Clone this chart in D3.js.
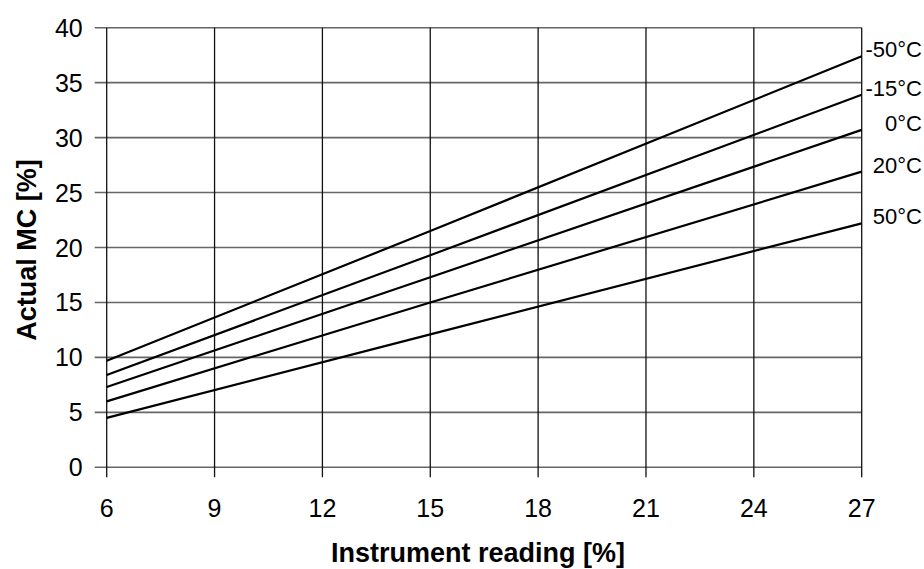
<!DOCTYPE html>
<html>
<head>
<meta charset="utf-8">
<script src="https://cdn.jsdelivr.net/npm/d3@7"></script>
<style>
  body { margin: 0; background: #fff; }
  svg { display: block; font-family: "Liberation Sans", Arial, sans-serif; }
  .grid-h { stroke: #666; stroke-width: 1.6; }
  .grid-v { stroke: #111; stroke-width: 1.3; }
  .curve { fill: none; stroke: #000; stroke-width: 2.2; }
  .tick-label { font-size: 25px; fill: #000; }
  .series-label { font-size: 22px; fill: #000; }
  .axis-title { font-size: 27px; font-weight: bold; fill: #000; }
</style>
</head>
<body>
<svg width="924" height="569"></svg>
<script>
const readings = [6, 15, 27];
// actual MC for each temperature
const mcMinus50 = [9.7, 21.5, 37.4];
const mcMinus15 = [8.4, 19.3, 33.9];
const mcZero = [7.3, 17.3, 30.7];
const mcPlus20 = [6.0, 15.0, 26.9];
const mcPlus50 = [4.5, 12.1, 22.2];
const temps = ['-50°C', '-15°C', '0°C', '20°C', '50°C'];
const xTicks = [6, 9, 12, 15, 18, 21, 24, 27];
const yTicks = [0, 5, 10, 15, 20, 25, 30, 35, 40];

const seriesValues = [mcMinus50, mcMinus15, mcZero, mcPlus20, mcPlus50];
const series = temps.map((t, i) => ({
  label: t,
  points: readings.map((r, j) => ({ x: r, y: seriesValues[i][j] }))
}));

const svg = d3.select('svg');
const plotLeft = 106.7, plotRight = 861.7, plotTop = 27.7, plotBottom = 467.3;

const x = d3.scaleLinear().domain([6, 27]).range([plotLeft, plotRight]);
const y = d3.scaleLinear().domain([0, 40]).range([plotBottom, plotTop]);

// horizontal grid + left ticks
svg.selectAll('.grid-h')
  .data(yTicks)
  .join('line')
  .classed('grid-h', true)
  .attr('x1', plotLeft - 12)
  .attr('x2', plotRight)
  .attr('y1', d => y(d))
  .attr('y2', d => y(d));

// vertical grid + bottom ticks
svg.selectAll('.grid-v')
  .data(xTicks)
  .join('line')
  .classed('grid-v', true)
  .attr('x1', d => x(d))
  .attr('x2', d => x(d))
  .attr('y1', plotTop)
  .attr('y2', plotBottom + 10);

svg.selectAll('.ylab')
  .data(yTicks)
  .join('text')
  .attr('class', 'tick-label ylab')
  .attr('x', plotLeft - 24)
  .attr('y', d => y(d) + 9)
  .attr('text-anchor', 'end')
  .text(d => d);

svg.selectAll('.xlab')
  .data(xTicks)
  .join('text')
  .attr('class', 'tick-label xlab')
  .attr('x', d => x(d))
  .attr('y', plotBottom + 50)
  .attr('text-anchor', 'middle')
  .text(d => d);

const line = d3.line().x(d => x(d.x)).y(d => y(d.y));

svg.selectAll('.curve')
  .data(series)
  .join('path')
  .classed('curve', true)
  .attr('d', d => line(d.points));

svg.selectAll('.series-label')
  .data(series)
  .join('text')
  .classed('series-label', true)
  .attr('x', 922)
  .attr('y', d => y(d.points[d.points.length - 1].y) + 1)
  .attr('text-anchor', 'end')
  .text(d => d.label);

svg.append('text')
  .classed('axis-title', true)
  .attr('x', 478)
  .attr('y', 562)
  .attr('text-anchor', 'middle')
  .text('Instrument reading [%]');

svg.append('text')
  .classed('axis-title', true)
  .attr('transform', 'translate(36,250) rotate(-90)')
  .attr('text-anchor', 'middle')
  .text('Actual MC [%]');
</script>
</body>
</html>
